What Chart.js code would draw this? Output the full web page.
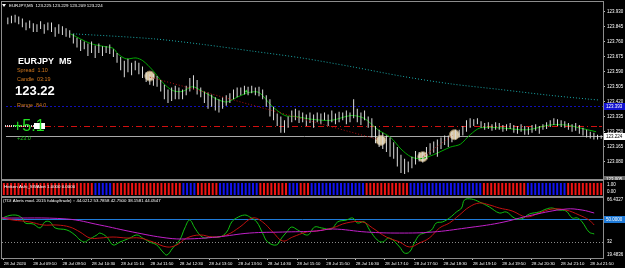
<!DOCTYPE html>
<html><head><meta charset="utf-8">
<script src="https://cdn.jsdelivr.net/npm/chart.js@4.4.1/dist/chart.umd.min.js"></script>
<style>
html,body{margin:0;padding:0;background:#000;overflow:hidden}
body{width:625px;height:268px;position:relative}
canvas{position:absolute;left:0;display:block}
</style></head><body>
<canvas id="main" width="625" height="180" style="top:0"></canvas>
<canvas id="ha" width="625" height="17" style="top:180px"></canvas>
<canvas id="tdi" width="625" height="72" style="top:196px"></canvas>
<script>
const FONT = '"Liberation Sans", Arial, sans-serif';

// ---- price bars (M5), index 0 = 08:30 ----
const highs = [
123.897,123.908,123.914,123.903,123.892,123.870,123.881,123.865,123.859,123.876,
123.859,123.870,123.870,123.843,123.859,123.848,123.837,123.826,123.805,123.783,
123.772,123.761,123.750,123.761,123.739,123.750,123.734,123.734,123.745,123.717,
123.696,123.674,123.652,123.663,123.641,123.652,123.641,123.619,123.587,123.576,
123.576,123.565,123.543,123.516,123.489,123.500,123.510,123.500,123.489,123.510,
123.554,123.570,123.543,123.500,123.478,123.472,123.461,123.445,123.434,123.445,
123.456,123.467,123.489,123.500,123.500,123.510,123.505,123.510,123.500,123.505,
123.489,123.456,123.434,123.391,123.352,123.336,123.314,123.336,123.369,123.380,
123.369,123.358,123.347,123.358,123.347,123.358,123.352,123.358,123.347,123.369,
123.352,123.363,123.358,123.369,123.358,123.434,123.380,123.358,123.369,123.336,
123.325,123.282,123.260,123.243,123.227,123.216,123.189,123.162,123.118,123.096,
123.080,123.107,123.140,123.134,123.134,123.162,123.184,123.194,123.205,123.216,
123.227,123.227,123.249,123.260,123.260,123.282,123.314,123.325,123.320,123.325,
123.309,123.298,123.303,123.292,123.303,123.298,123.287,123.292,123.298,123.287,
123.282,123.292,123.282,123.276,123.287,123.292,123.282,123.292,123.303,123.314,
123.325,123.320,123.314,123.309,123.298,123.292,123.298,123.287,123.271,123.260,
123.249,123.243,123.232,123.229];
const lows = [
123.859,123.865,123.870,123.859,123.843,123.826,123.837,123.816,123.816,123.832,
123.805,123.826,123.816,123.788,123.805,123.799,123.788,123.783,123.750,123.728,
123.707,123.717,123.679,123.696,123.668,123.696,123.679,123.696,123.690,123.674,
123.641,123.598,123.559,123.587,123.570,123.598,123.576,123.554,123.532,123.516,
123.510,123.505,123.478,123.434,123.412,123.423,123.434,123.434,123.434,123.456,
123.478,123.489,123.461,123.445,123.412,123.380,123.391,123.369,123.358,123.380,
123.396,123.412,123.434,123.445,123.456,123.461,123.456,123.467,123.456,123.450,
123.434,123.391,123.336,123.314,123.282,123.243,123.243,123.271,123.303,123.314,
123.298,123.303,123.282,123.298,123.271,123.303,123.292,123.314,123.282,123.303,
123.292,123.303,123.314,123.292,123.303,123.325,123.303,123.287,123.314,123.271,
123.216,123.184,123.162,123.151,123.134,123.107,123.096,123.052,123.014,123.009,
123.019,123.041,123.063,123.080,123.074,123.096,123.118,123.129,123.107,123.151,
123.173,123.162,123.189,123.205,123.216,123.227,123.249,123.271,123.282,123.292,
123.271,123.260,123.265,123.254,123.260,123.260,123.249,123.254,123.265,123.243,
123.238,123.249,123.232,123.232,123.243,123.254,123.238,123.260,123.265,123.276,
123.287,123.282,123.276,123.271,123.260,123.249,123.254,123.238,123.227,123.216,
123.211,123.205,123.205,123.209];

// Heiken Ashi direction per bar: 1 = bull (blue), -1 = bear (red)
const haDir = [
-1,-1,-1,-1,-1,-1,-1,-1,-1,-1,-1,-1,-1,-1,-1,-1,-1,-1,-1,-1,-1,-1,-1,-1,-1,
1,1,1,1,1,
-1,-1,-1,-1,-1,-1,-1,-1,-1,-1,-1,-1,-1,-1,-1,-1,-1,-1,-1,
1,1,1,1,
-1,-1,-1,-1,-1,-1,
1,1,1,1,1,1,1,1,1,1,1,
-1,-1,-1,-1,-1,-1,-1,-1,
1,1,1,
-1,-1,-1,
1,1,1,1,1,1,1,1,1,1,1,1,1,1,1,
-1,-1,-1,-1,-1,-1,-1,-1,-1,-1,-1,-1,
1,1,1,1,1,1,1,1,1,1,1,1,1,1,1,1,1,1,1,1,
-1,-1,-1,-1,-1,-1,-1,-1,-1,-1,-1,-1,
1,1,1,1,1,1,1,1,1,1,1,
-1,-1,-1,-1,-1,-1,-1,-1,-1,-1];

const timeLabelBars = [0,8,16,24,32,40,48,56,64,72,80,88,96,104,112,120,128,136,144,152,160];
const timeLabels = ['28 Jul 2020','28 Jul 09:10','28 Jul 09:50','28 Jul 10:30','28 Jul 11:10','28 Jul 11:50','28 Jul 12:30','28 Jul 13:10','28 Jul 13:50','28 Jul 14:30','28 Jul 15:10','28 Jul 15:50','28 Jul 16:30','28 Jul 17:10','28 Jul 17:50','28 Jul 18:30','28 Jul 19:10','28 Jul 19:50','28 Jul 20:30','28 Jul 21:10','28 Jul 21:50'];
const priceTicks = [123.930,123.845,123.760,123.675,123.590,123.505,123.420,123.335,123.250,123.165,123.080];

// moving averages / lines on price panel (bar index, price)
const slowMaBars = [18.0,39.8,53.5,67.1,80.7,94.3,108.0,121.6,135.2,148.8,159.7,162.5];
const slowMaValues = [123.805,123.777,123.745,123.707,123.668,123.619,123.565,123.521,123.489,123.456,123.434,123.429];
const fastMaBars = [17.2,22.7,26.2,28.9,30.3,32.5,35.2,37.1,39.8,42.6,45.3,48.0,50.7,53.5,59.7,63.5,66.3,69.0,72.5,76.1,78.8,83.4,88.9,94.3,97.9,101.7,105.2,108.0,110.7,113.4,116.9,121.6,124.3,127.0,129.8,135.2,142.6,148.8,153.5,157.0,161.6];
const fastMaValues = [123.805,123.750,123.734,123.723,123.690,123.663,123.668,123.652,123.598,123.527,123.483,123.478,123.505,123.478,123.418,123.450,123.472,123.472,123.396,123.341,123.336,123.320,123.314,123.341,123.325,123.260,123.216,123.151,123.107,123.096,123.118,123.162,123.178,123.232,123.271,123.271,123.260,123.287,123.287,123.271,123.249];
const trendBars = [39.0,101.7];
const trendValues = [123.559,123.205];
const trend2Bars = [114.0,122.1];
const trend2Values = [123.107,123.227];
const signalBars = [39.0,102.5,114.0,122.7];
const signalValues = [123.565,123.200,123.107,123.232];
const signalCore = ['#ff2020','#ff9a00','#ff2020','#ff9a00'];
const arrowBars = [65.5];
const arrowValues = [123.478];
const levelBlue = 123.393, levelRed = 123.282, bidPrice = 123.224, windowLow = 123.005;
const priceMin = 123.009, priceMax = 123.963;

// TDI
const tdiRsiBars = [-0.5,0.3,3.1,5.0,5.8,8.0,9.9,11.2,12.6,14.0,17.2,19.4,20.8,22.1,23.0,25.4,26.2,28.1,29.8,31.7,34.4,36.3,37.9,39.8,41.7,43.4,44.5,46.1,48.0,49.4,50.7,52.1,53.5,54.8,56.2,58.9,60.8,62.2,63.5,65.7,67.1,69.0,70.6,72.0,74.4,75.8,77.2,78.5,80.2,82.9,84.8,86.7,89.4,91.1,93.5,95.2,96.5,98.4,99.8,101.9,103.3,105.2,108.0,109.3,110.7,112.0,113.4,114.8,116.7,118.0,119.7,121.6,123.5,124.9,125.7,127.6,129.8,132.5,135.2,137.1,139.3,141.2,143.4,146.1,148.0,149.6,151.5,153.4,155.1,156.5,157.8,159.7,161.1];
const tdiRsi = [49.2,51.6,53.1,50.8,46.9,46.1,43.0,47.7,47.7,43.0,41.4,37.5,33.6,32.0,33.6,37.5,39.0,35.9,29.7,32.0,35.1,37.5,35.1,32.0,29.7,24.2,21.8,27.3,33.6,43.0,49.2,43.0,37.5,35.1,35.9,35.9,39.8,47.7,50.8,53.1,51.6,47.7,39.0,32.0,29.7,35.1,39.8,43.7,41.4,37.5,43.7,43.0,42.2,47.7,49.2,50.8,46.9,47.7,41.4,33.6,32.0,35.1,28.1,23.4,24.2,31.2,37.5,39.0,41.4,46.9,47.7,50.8,55.5,58.6,64.9,65.6,63.3,59.4,54.7,55.5,50.8,50.0,53.9,55.5,57.8,58.6,57.0,56.3,50.8,50.8,47.7,39.8,38.3];
const tdiSigBars = [-0.5,2.5,7.1,10.7,14.5,18.0,20.8,23.5,26.2,29.8,33.6,37.1,40.7,44.5,47.2,49.9,53.5,57.0,60.8,64.4,67.9,70.6,73.4,76.1,78.8,82.6,85.3,89.7,93.5,97.9,100.6,104.4,108.0,110.7,113.4,116.1,118.9,121.6,124.3,127.0,129.8,132.5,135.2,138.7,142.6,146.1,149.6,153.4,157.0,159.7,161.1];
const tdiSig = [50.8,49.2,47.7,45.3,45.3,43.7,39.8,35.1,35.1,35.9,35.1,35.1,32.0,28.1,29.7,35.1,37.5,35.9,37.5,43.7,50.8,47.7,39.8,32.8,35.9,39.8,40.6,43.0,46.9,47.7,43.0,35.9,32.0,28.1,31.2,35.1,43.0,46.9,53.1,59.4,62.5,61.0,58.6,56.3,51.6,54.7,57.8,57.0,53.1,49.2,45.3];
const tdiBaseBars = [-0.5,17.2,26.2,35.2,44.5,49.9,58.1,67.1,76.1,85.3,89.7,99.0,108.0,117.0,126.2,135.2,144.2,153.4,157.8,161.1];
const tdiBase = [50.8,50.0,45.3,39.8,35.1,34.4,35.9,39.0,39.8,40.6,42.2,39.8,39.0,39.8,43.0,46.9,53.1,57.8,57.0,54.7];
const tdiMid = 50, tdiLow = 32, tdiMin = 19.48, tdiMax = 66.43;

const pts = (xs, ys) => xs.map((x, i) => ({x, y: ys[i]}));
const BAR_MIN = -0.5, BAR_MAX = highs.length - 0.5;
const common = {responsive:false, animation:false, events:[], plugins:{legend:{display:false}, tooltip:{enabled:false}}};

function text(ctx, s, x, y, font, color, align) {
  ctx.font = font; ctx.fillStyle = color; ctx.textBaseline = 'middle'; ctx.textAlign = align || 'left';
  ctx.fillText(s, x, y);
}
function hline(ctx, area, y, color, dash, w) {
  ctx.save(); ctx.strokeStyle = color; ctx.lineWidth = w || 1; ctx.setLineDash(dash || []);
  ctx.beginPath(); ctx.moveTo(area.left, Math.round(y) + 0.5); ctx.lineTo(area.right, Math.round(y) + 0.5); ctx.stroke(); ctx.restore();
}
function axisBox(ctx, y, s, bg, fg) {
  ctx.fillStyle = bg; ctx.fillRect(604, Math.round(y) - 3, 21, 7);
  text(ctx, s, 606, Math.round(y) + 0.5, '4.5px ' + FONT, fg);
}

const mainPlugin = {
  id: 'mainDeco',
  beforeDatasetsDraw(chart) {
    const {ctx, chartArea: a, scales: {y}} = chart;
    hline(ctx, a, y.getPixelForValue(levelBlue), '#1010b8', [2, 2]);
    hline(ctx, a, y.getPixelForValue(levelRed), '#d01010', [6, 3, 1, 3]);
    hline(ctx, a, y.getPixelForValue(bidPrice), '#a8a8a8', []);
  },
  afterDraw(chart) {
    const {ctx, chartArea: a, scales: {y}} = chart;
    ctx.save();
    ctx.strokeStyle = '#8c8c8c'; ctx.lineWidth = 1;
    ctx.strokeRect(1.5, 1.5, 602, 178);
    // title
    ctx.fillStyle = '#fff'; ctx.beginPath(); ctx.moveTo(2, 4); ctx.lineTo(6, 4); ctx.lineTo(4, 7); ctx.fill();
    text(ctx, 'EURJPY,M5  123.225 123.229 123.209 123.224', 9, 6, '4.4px ' + FONT, '#ffffff');
    // info panel
    text(ctx, 'EURJPY  M5', 18, 62, 'bold 9px ' + FONT, '#ffffff');
    text(ctx, 'Spread  1.10', 17, 71, '5.4px ' + FONT, '#d2781e');
    text(ctx, 'Candle  03:19', 17, 80, '5.4px ' + FONT, '#d2781e');
    text(ctx, '123.22', 15, 91, 'bold 13px ' + FONT, '#ffffff');
    text(ctx, 'Range  84.0', 17, 106, '5.4px ' + FONT, '#d2781e');
    ctx.strokeStyle = '#d8d8d8'; ctx.lineWidth = 2; ctx.setLineDash([1, 1]);
    ctx.beginPath(); ctx.moveTo(5, 126); ctx.lineTo(34, 126); ctx.stroke(); ctx.setLineDash([]);
    ctx.fillStyle = '#ffffff'; ctx.fillRect(34, 123, 11, 6);
    text(ctx, '+5.1', 13, 127, '16px ' + FONT, '#22e022');
    text(ctx, '+23.0', 17, 139, '5.4px ' + FONT, '#22c022');
    // axis boxes
    axisBox(ctx, y.getPixelForValue(levelBlue), '123.393', '#1010d0', '#ffffff');
    axisBox(ctx, y.getPixelForValue(bidPrice), '123.224', '#ffffff', '#000000');
    axisBox(ctx, 178.5, '123.005', '#6a6a6a', '#ffffff');
    ctx.fillStyle = '#d01010'; ctx.fillRect(599, Math.round(y.getPixelForValue(levelRed)), 3, 1);
    ctx.restore();
  }
};

new Chart(document.getElementById('main'), {
  type: 'bar',
  data: {datasets: [
    {type:'line', data: pts(slowMaBars, slowMaValues), borderColor:'#1aa8a8', borderWidth:1, borderDash:[1,2], pointRadius:0, tension:0.3},
    {type:'line', data: pts(trendBars, trendValues), borderColor:'#b01010', borderWidth:1, borderDash:[1,2], pointRadius:0},
    {type:'line', data: pts(trend2Bars, trend2Values), borderColor:'#b01010', borderWidth:1, borderDash:[1,2], pointRadius:0},
    {type:'bar', data: highs.map((h, i) => ({x: i, y: [lows[i], h]})), backgroundColor:'#dcdcdc', barThickness:1, inflateAmount:0, grouped:false},
    {type:'line', data: pts(fastMaBars, fastMaValues), borderColor:'#00a800', borderWidth:1, pointRadius:0, tension:0.3},
    {type:'scatter', data: pts(arrowBars, arrowValues), pointStyle:'triangle', pointRadius:1.8, backgroundColor:'#20d020', borderWidth:0},
    {type:'scatter', data: pts(signalBars, signalValues), pointRadius:5, backgroundColor:'#d8c6a0', borderColor:'#8e7c58', borderWidth:1},
    {type:'scatter', data: pts(signalBars, signalValues), pointRadius:1.6, backgroundColor:signalCore, borderWidth:0}
  ]},
  options: Object.assign({}, common, {
    layout: {padding: {left: 2, top: 3, right: 0, bottom: 2}},
    scales: {
      x: {type:'linear', min:BAR_MIN, max:BAR_MAX, offset:false, display:false},
      y: {position:'right', min:priceMin, max:priceMax,
          afterFit(s) { s.width = 22; },
          afterBuildTicks(s) { s.ticks = priceTicks.map(v => ({value: v})); },
          ticks: {color:'#ffffff', font:{size:4.5, family:FONT}, padding:2, callback: v => Number(v).toFixed(3)},
          grid: {drawOnChartArea:false, color:'#bbbbbb', tickLength:2},
          border: {display:false}}
    }
  }),
  plugins: [mainPlugin]
});

const haPlugin = {
  id: 'haDeco',
  afterDraw(chart) {
    const {ctx} = chart;
    ctx.save();
    ctx.strokeStyle = '#8c8c8c'; ctx.lineWidth = 1;
    ctx.strokeRect(1.5, 0.5, 602, 16);
    text(ctx, 'Heiken Ashi_SWAlert 1.0000 0.0000', 4, 7, '4.4px ' + FONT, '#ffffff');
    text(ctx, '1.00', 607, 5, '4.5px ' + FONT, '#ffffff');
    text(ctx, '0.00', 607, 12, '4.5px ' + FONT, '#ffffff');
    ctx.restore();
  }
};

new Chart(document.getElementById('ha'), {
  type: 'bar',
  data: {datasets: [{data: haDir.map((d, i) => ({x: i, y: [0, 1]})), backgroundColor: haDir.map(d => d > 0 ? '#1414f0' : '#f01414'), barThickness:2, inflateAmount:0}]},
  options: Object.assign({}, common, {
    layout: {padding: {left: 2, top: 3, right: 0, bottom: 2}},
    scales: {
      x: {type:'linear', min:BAR_MIN, max:BAR_MAX, offset:false, display:false},
      y: {position:'right', min:0, max:1, afterFit(s) { s.width = 22; }, ticks:{display:false}, grid:{display:false}, border:{display:false}}
    }
  }),
  plugins: [haPlugin]
});

const tdiPlugin = {
  id: 'tdiDeco',
  beforeDatasetsDraw(chart) {
    const {ctx, chartArea: a, scales: {y}} = chart;
    hline(ctx, a, y.getPixelForValue(tdiMid), '#1e7ad8', []);
    hline(ctx, a, y.getPixelForValue(tdiLow), '#8a8a8a', [1, 2]);
  },
  afterDraw(chart) {
    const {ctx, chartArea: a, scales: {y}} = chart;
    ctx.save();
    ctx.strokeStyle = '#8c8c8c'; ctx.lineWidth = 1;
    ctx.strokeRect(1.5, 1.5, 602, a.bottom - 1);
    text(ctx, '(TDI Alerts mod. 2015 fulday/trade) :: 44.0212 53.7858 42.7500 38.1581 44.0547', 3, 4.5, '4.4px ' + FONT, '#ffffff');
    text(ctx, '66.4327', 607, 3.5, '4.5px ' + FONT, '#ffffff');
    ctx.fillStyle = '#1e7ad8'; ctx.fillRect(604, Math.round(y.getPixelForValue(tdiMid)) - 3, 21, 7);
    text(ctx, '50.0000', 606, Math.round(y.getPixelForValue(tdiMid)) + 0.5, '4.5px ' + FONT, '#ffffff');
    text(ctx, '32', 607, y.getPixelForValue(tdiLow), '4.5px ' + FONT, '#ffffff');
    text(ctx, '19.4836', 607, 59, '4.5px ' + FONT, '#ffffff');
    ctx.restore();
  }
};

new Chart(document.getElementById('tdi'), {
  type: 'line',
  data: {datasets: [
    {data: pts(tdiBaseBars, tdiBase), borderColor:'#c020c8', borderWidth:1, pointRadius:0, tension:0.4},
    {data: pts(tdiSigBars, tdiSig), borderColor:'#c01010', borderWidth:1, pointRadius:0, tension:0.4},
    {data: pts(tdiRsiBars, tdiRsi), borderColor:'#10c010', borderWidth:1, pointRadius:0, tension:0.4}
  ]},
  options: Object.assign({}, common, {
    layout: {padding: {left: 2, top: 2, right: 0, bottom: 0}},
    scales: {
      x: {type:'linear', min:BAR_MIN, max:BAR_MAX, offset:false,
          afterBuildTicks(s) { s.ticks = timeLabelBars.map(v => ({value: v})); },
          afterFit(s) { s.height = 10; },
          ticks: {color:'#ffffff', font:{size:4.3, family:FONT}, padding:1, align:'start', maxRotation:0, autoSkip:false,
                  callback: (v, i) => timeLabels[i]},
          grid: {drawOnChartArea:false, color:'#bbbbbb', tickLength:2},
          border: {display:false}},
      y: {position:'right', min:tdiMin, max:tdiMax, afterFit(s) { s.width = 22; }, ticks:{display:false}, grid:{display:false}, border:{display:false}}
    }
  }),
  plugins: [tdiPlugin]
});
</script>
</body></html>
